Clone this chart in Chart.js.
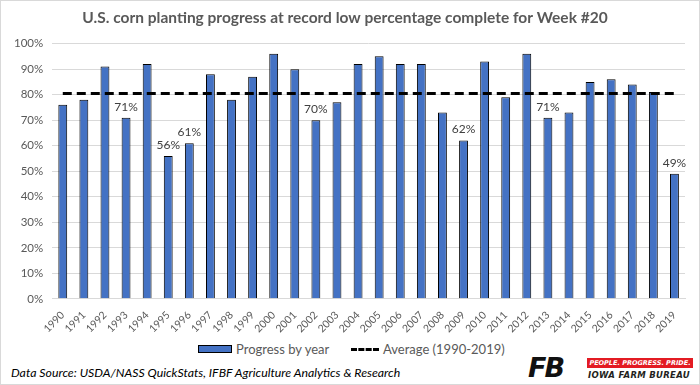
<!DOCTYPE html>
<html>
<head>
<meta charset="utf-8">
<script src="https://cdn.jsdelivr.net/npm/chart.js@4.4.1/dist/chart.umd.min.js"></script>
<style>
  body { margin: 0; background: #fff; }
  #wrap { position: relative; width: 698px; height: 383px; border: 1px solid #d9d9d9; font-family: Lato, "Open Sans", sans-serif; color: #595959; overflow: hidden; }
  #box { position: absolute; left: 0; top: 0; width: 698px; height: 336px; }
  .legend { position: absolute; top: 340px; left: 0; width: 698px; height: 16px; font-size: 13px; }
  .legend span { position: absolute; top: 0; white-space: nowrap; }
  .swatch { position: absolute; top: 4px; width: 32px; height: 6px; background: #4472C4; border: 1px solid #000; }
  .dash { position: absolute; top: 7px; width: 28px; height: 0; border-top: 3px dashed #000; }
  .source { position: absolute; left: 10px; top: 364px; font-size: 12.3px; font-style: italic; color: #000; white-space: nowrap; }
  .fb { position: absolute; left: 527px; top: 351px; font-size: 27px; font-weight: 900; font-style: italic; color: #111; letter-spacing: -2px; font-family: "DejaVu Sans", sans-serif; }
  .pride { position: absolute; left: 586px; top: 357px; width: 106px; height: 10px; background: #e31b23; color: #fff; font-size: 6.5px; font-weight: 900; font-style: italic; line-height: 10px; text-align: center; font-family: "DejaVu Sans", sans-serif; }
  .ifb { position: absolute; left: 587px; top: 369px; font-size: 8.5px; font-weight: 900; font-style: italic; color: #231f20; font-family: "DejaVu Sans", sans-serif; letter-spacing: 0.3px; }
</style>
</head>
<body>
<div id="wrap">
  <div id="box"><canvas id="progressChart"></canvas></div>
  <div class="legend">
    <div class="swatch" style="left:197px"></div>
    <span style="left:235px">Progress by year</span>
    <div class="dash" style="left:350px"></div>
    <span style="left:382px">Average (1990-2019)</span>
  </div>
  <div class="source">Data Source: USDA/NASS QuickStats, IFBF Agriculture Analytics &amp; Research</div>
  <div class="fb">FB</div>
  <div class="pride">PEOPLE. PROGRESS. PRIDE.</div>
  <div class="ifb">IOWA FARM BUREAU</div>
</div>

<script>
// --- data ---
const years = ["1990","1991","1992","1993","1994","1995","1996","1997","1998","1999",
               "2000","2001","2002","2003","2004","2005","2006","2007","2008","2009",
               "2010","2011","2012","2013","2014","2015","2016","2017","2018","2019"];

const progress = [76, 78, 91, 71, 92, 56, 61, 88, 78, 87,
                  96, 90, 70, 77, 92, 95, 92, 92, 73, 62,
                  93, 79, 96, 71, 73, 85, 86, 84, 81, 49];

const averageLevel = [80.5, 80.5, 80.5, 80.5, 80.5, 80.5, 80.5, 80.5, 80.5, 80.5,
                      80.5, 80.5, 80.5, 80.5, 80.5, 80.5, 80.5, 80.5, 80.5, 80.5,
                      80.5, 80.5, 80.5, 80.5, 80.5, 80.5, 80.5, 80.5, 80.5, 80.5];

// years that get a value label above the bar
const labelledYears = ["1993", "1995", "1996", "2002", "2009", "2013", "2019"];

const yTicks = [0, 10, 20, 30, 40, 50, 60, 70, 80, 90, 100];

// petit plugin pour les etiquettes au-dessus des barres
const barLabels = {
    id: 'barLabels',
    afterDatasetsDraw(chart) {
        const ctx = chart.ctx;
        const meta = chart.getDatasetMeta(1);
        ctx.save();
        ctx.font = '12px Lato, "Open Sans", sans-serif';
        ctx.fillStyle = '#404040';
        ctx.textAlign = 'center';
        ctx.textBaseline = 'bottom';
        labelledYears.forEach(y => {
            const i = years.indexOf(y);
            const bar = meta.data[i];
            ctx.fillText(progress[i] + '%', bar.x, bar.y - 5);
        });
        ctx.restore();
    }
};

const ctx = document.getElementById('progressChart').getContext('2d');

new Chart(ctx, {
    data: {
        labels: years,
        datasets: [
            {
                type: 'line',
                label: 'Average (1990-2019)',
                data: averageLevel,
                borderColor: '#000',
                borderWidth: 3,
                borderDash: [9, 5],
                pointRadius: 0,
                fill: false,
                order: 0
            },
            {
                type: 'bar',
                label: 'Progress by year',
                data: progress,
                backgroundColor: '#4472C4',
                borderColor: '#000',
                borderWidth: 1,
                barPercentage: 0.42,
                categoryPercentage: 1,
                order: 1
            }
        ]
    },
    options: {
        responsive: true,
        maintainAspectRatio: false,
        animation: false,
        layout: { padding: { left: 4, right: 14, top: 6, bottom: 0 } },
        plugins: {
            legend: { display: false },
            tooltip: { enabled: false },
            title: {
                display: true,
                text: 'U.S. corn planting progress at record low percentage complete for Week #20',
                color: '#595959',
                font: { family: 'Lato, "Open Sans", sans-serif', size: 15.5, weight: 'bold' },
                padding: { top: 2, bottom: 16 }
            }
        },
        scales: {
            x: {
                grid: { display: false },
                border: { color: '#d9d9d9' },
                ticks: {
                    color: '#595959',
                    font: { family: 'Lato, "Open Sans", sans-serif', size: 10.5 },
                    minRotation: 45,
                    maxRotation: 45,
                    autoSkip: false,
                    padding: 2
                }
            },
            y: {
                min: 0,
                max: 100,
                afterBuildTicks: axis => { axis.ticks = yTicks.map(v => ({ value: v })); },
                grid: { color: '#d9d9d9', drawTicks: false },
                border: { display: false },
                ticks: {
                    color: '#595959',
                    font: { family: 'Lato, "Open Sans", sans-serif', size: 11.5 },
                    padding: 9,
                    callback: v => v + '%'
                }
            }
        }
    },
    plugins: [barLabels]
});
</script>
</body>
</html>
